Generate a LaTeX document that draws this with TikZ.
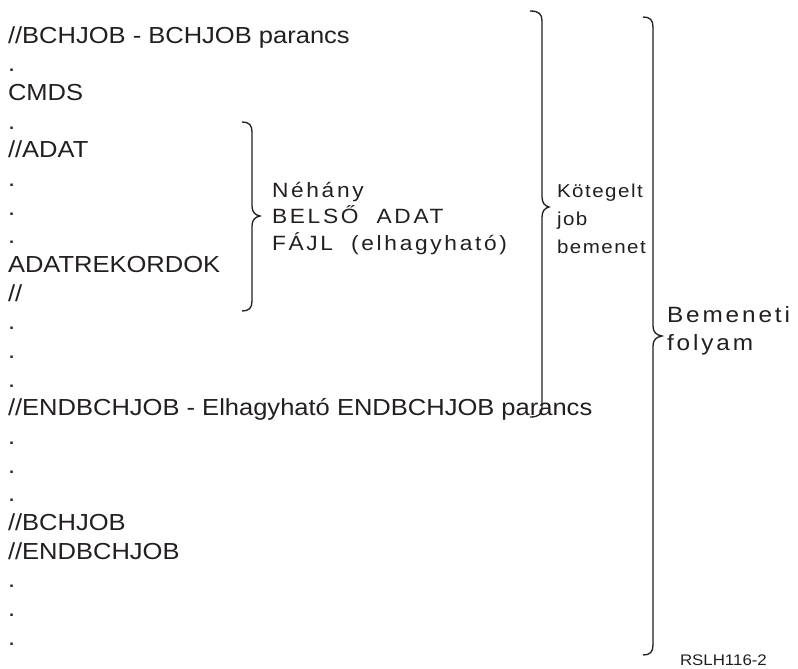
\documentclass[tikz,border=0pt]{standalone}
\usepackage{fontspec}
\setmainfont{Liberation Sans}[FakeStretch=1.1]
\newfontfamily\lblA{Liberation Sans}[FakeStretch=1.1, LetterSpace=13]
\newfontfamily\lblB{Liberation Sans}[FakeStretch=1.1, LetterSpace=8]
\newfontfamily\lblC{Liberation Sans}[FakeStretch=1.1, LetterSpace=13]
\definecolor{ink}{HTML}{231F20}
\begin{document}
\begin{tikzpicture}[x=0.75pt,y=-0.75pt,
  mainline/.style={anchor=base west,inner sep=0pt,outer sep=0pt,text=ink,font=\fontsize{17.4}{20}\selectfont},
  labA/.style={anchor=base west,inner sep=0pt,outer sep=0pt,text=ink,font=\lblA\fontsize{15.5}{18}\selectfont},
  labB/.style={anchor=base west,inner sep=0pt,outer sep=0pt,text=ink,font=\lblB\fontsize{14}{16}\selectfont},
  labC/.style={anchor=base west,inner sep=0pt,outer sep=0pt,text=ink,font=\lblC\fontsize{16.6}{18}\selectfont},
  tag/.style={anchor=base west,inner sep=0pt,outer sep=0pt,text=ink,font=\fontsize{11.5}{13}\selectfont},
  bracestyle/.style={draw=ink,line width=1pt}]
\useasboundingbox (0,0) rectangle (798,668);
% main listing
\def\pitch{28.67}
\foreach \i/\t in {1/{//BCHJOB - BCHJOB parancs},2/.,3/CMDS,4/.,5/{//ADAT},6/.,7/.,8/.,9/ADATREKORDOK,10/{//},11/.,12/.,13/.,14/{//ENDBCHJOB - Elhagyható ENDBCHJOB parancs},15/.,16/.,17/.,18/{//BCHJOB},19/{//ENDBCHJOB},20/.,21/.,22/.}{
  \node[mainline] (t\i) at (8,{43+(\i-1)*\pitch}) {\t};
}
% inner small brace and its label
\draw[bracestyle] (242,122) .. controls (249,122) and (252,125) .. (252,132) -- (252,206)
  .. controls (252,212) and (255,215) .. (260,216) .. controls (255,217) and (252,220) .. (252,226)
  -- (252,301) .. controls (252,308) and (249,311) .. (242,311);
\node[labA] (a1) at (272,197) {Néhány};
\node[labA] (a2) at (272,223.5) {BELSŐ\ \ ADAT};
\node[labA] (a3) at (272,250) {FÁJL\ \ (elhagyható)};
% batch job brace and label
\draw[bracestyle] (530,11) .. controls (539,11) and (542,14) .. (542,21) -- (542,197)
  .. controls (542,203) and (545,206) .. (549,207) .. controls (545,208) and (542,211) .. (542,217)
  -- (542,407) .. controls (542,414) and (539,417) .. (530,417);
\node[labB] (b1) at (557,197) {Kötegelt};
\node[labB] (b2) at (557,225) {job};
\node[labB] (b3) at (557,253) {bemenet};
% input stream brace and label
\draw[bracestyle] (643,17) .. controls (650,17) and (653,20) .. (653,27) -- (653,326)
  .. controls (653,332) and (656,335) .. (662,336) .. controls (656,337) and (653,340) .. (653,346)
  -- (653,645) .. controls (653,652) and (650,655) .. (643,655);
\node[labC] (c1) at (667,322) {Bemeneti};
\node[labC] (c2) at (667,350) {folyam};
\node[tag] (id) at (680,665) {RSLH116-2};
\end{tikzpicture}
\end{document}
